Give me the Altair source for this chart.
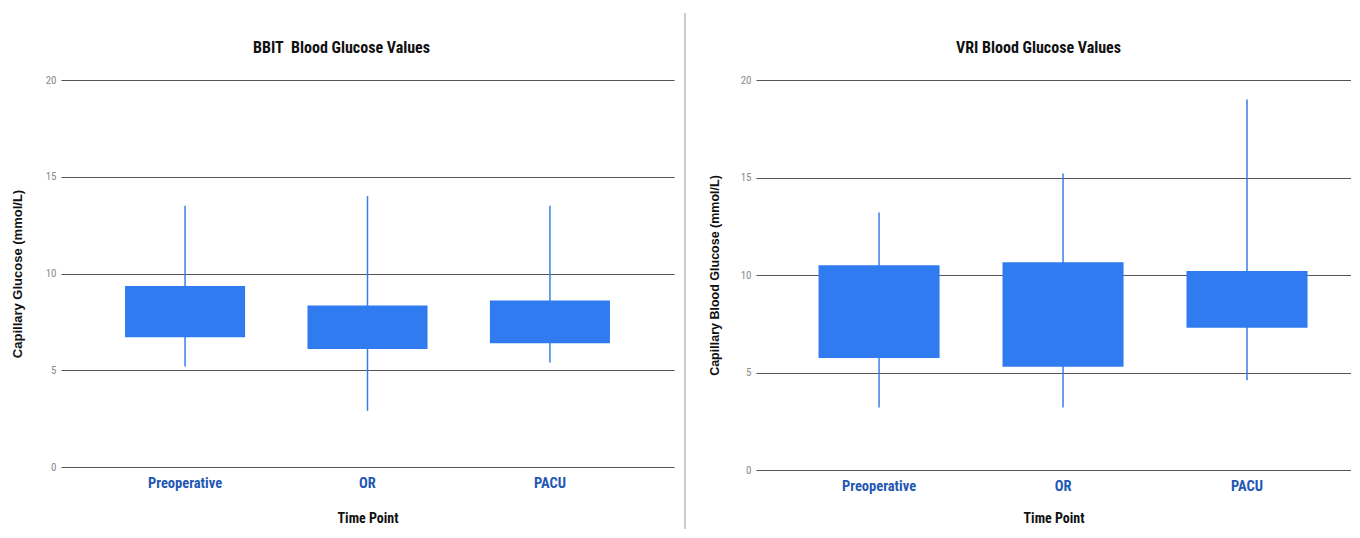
import altair as alt
import pandas as pd

categories = ["Preoperative", "OR", "PACU"]

bbit_min = [5.2, 2.9, 5.4]
bbit_q1 = [6.7, 6.1, 6.4]
bbit_q3 = [9.35, 8.35, 8.6]
bbit_max = [13.5, 14.0, 13.5]

vri_min = [3.2, 3.2, 4.6]
vri_q1 = [5.75, 5.3, 7.3]
vri_q3 = [10.5, 10.65, 10.2]
vri_max = [13.2, 15.2, 19.0]

y_ticks = [0, 5, 10, 15, 20]

NARROW = "'Liberation Sans Narrow', 'Roboto Condensed', Roboto, sans-serif"
SANS = "'Liberation Sans', Arial, sans-serif"
BOX = "#2f7bef"


def panel(title, dx, mins, q1, q3, maxs, ytitle, ytitle_size, width, height,
          pad_outer, align, title_pad, xtitle_pad):
    df = pd.DataFrame({"cat": categories, "lo": mins, "q1": q1, "q3": q3, "hi": maxs})
    x = alt.X(
        "cat:N",
        sort=categories,
        scale=alt.Scale(paddingInner=0.342, paddingOuter=pad_outer, align=align),
        axis=alt.Axis(
            title="Time Point",
            labelAngle=0,
            domain=False,
            ticks=False,
            grid=False,
            labelColor="#1f57b4",
            labelFont=NARROW,
            labelFontSize=14.5,
            labelFontWeight="bold",
            labelPadding=9,
            titleFont=NARROW,
            titleFontSize=14,
            titleFontWeight="bold",
            titleColor="#111",
            titlePadding=xtitle_pad,
        ),
    )
    yax = alt.Axis(
        title=ytitle,
        values=y_ticks,
        grid=True,
        gridColor="#555",
        gridWidth=1.1,
        domain=False,
        ticks=False,
        labelFont=NARROW,
        labelFontSize=11,
        labelColor="#8a8a8a",
        labelPadding=5,
        titleFont=SANS,
        titleFontSize=ytitle_size,
        titleFontWeight="bold",
        titleColor="#111",
        titlePadding=title_pad,
    )
    base = alt.Chart(df)
    whisk = base.mark_rule(color="#3a7fe8", strokeWidth=1.5).encode(
        x=x,
        y=alt.Y("lo:Q", scale=alt.Scale(domain=[0, 20], nice=False), axis=yax),
        y2="hi:Q",
    )
    box = base.mark_bar(color=BOX).encode(x=x, y="q1:Q", y2="q3:Q")
    return alt.layer(whisk, box).properties(
        width=width,
        height=height,
        title=alt.TitleParams(
            title,
            font=NARROW,
            fontSize=16,
            fontWeight="bold",
            color="#111",
            anchor="middle",
            offset=18,
            dx=dx,
        ),
    )


left = panel(
    "BBIT\u00a0 Blood Glucose Values", -26,
    bbit_min, bbit_q1, bbit_q3, bbit_max,
    "Capillary Glucose (mmol/L)", 13, 613, 387, 0.351, 0.5, 21, 22,
)
right = panel(
    "VRI Blood Glucose Values", -15,
    vri_min, vri_q1, vri_q3, vri_max,
    "Capillary Blood Glucose (mmol/L)", 12.5, 595, 390, 0.288, 0.59, 19, 19,
)

sep = (
    alt.Chart(pd.DataFrame({"s": [0]}))
    .mark_rule(color="#cccccc", strokeWidth=2)
    .encode(x=alt.value(0), y=alt.value(-67), y2=alt.value(449))
    .properties(width=60, height=387)
)

chart = (
    alt.hconcat(left, sep, right, spacing=11, bounds="flush")
    .properties(
        padding={"left": 3, "top": 4, "right": 0, "bottom": 0},
        background="white",
    )
    .configure_view(strokeWidth=0, stroke="transparent")
)

chart.save("out.html", embed_options={"renderer": "svg", "actions": False})
